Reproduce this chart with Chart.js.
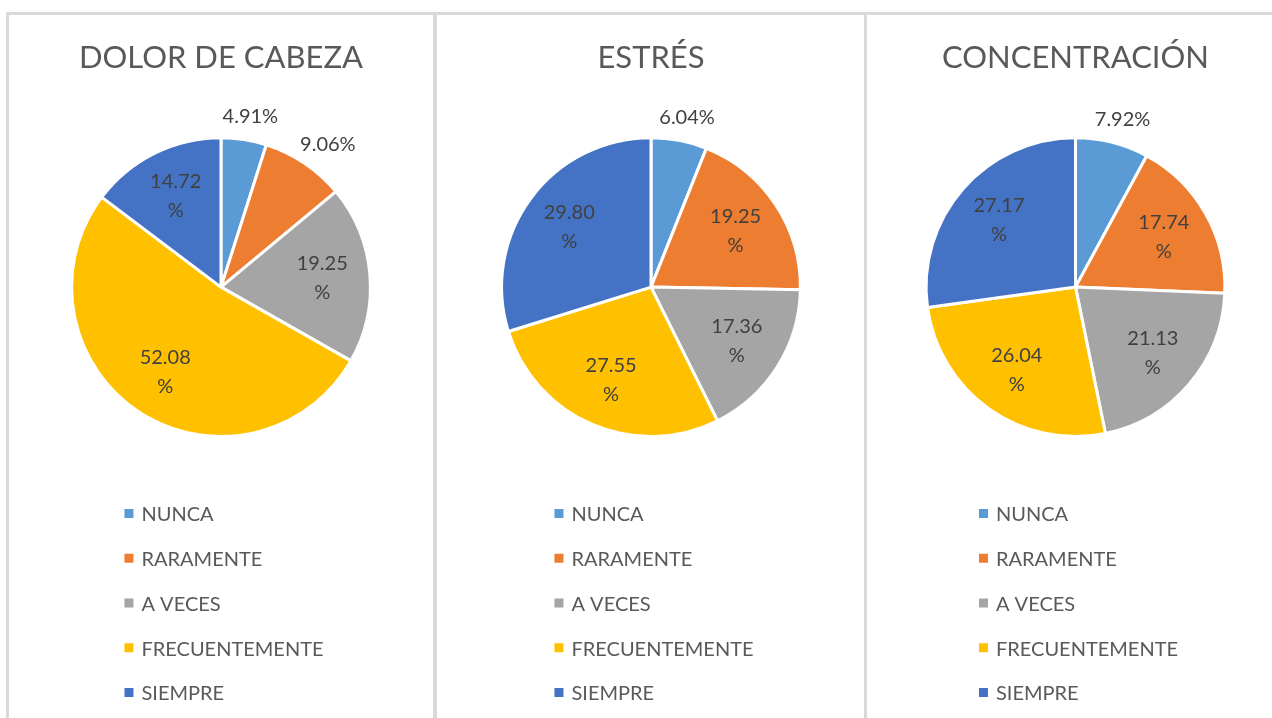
<!DOCTYPE html>
<html>
<head>
<meta charset="utf-8">
<script src="https://cdn.jsdelivr.net/npm/chart.js@4.4.1/dist/chart.umd.min.js"></script>
<style>
  body { margin: 0; background: #fff; width: 1272px; height: 718px; overflow: hidden; position: relative; font-family: Lato, sans-serif; }
  .line { position: absolute; background: #d9d9d9; }
  canvas { position: absolute; top: 15px; }
</style>
</head>
<body>
<div class="line" style="left:6px;top:12px;width:1266px;height:3px"></div>
<div class="line" style="left:6px;top:12px;width:3px;height:706px"></div>
<div class="line" style="left:433px;top:12px;width:4px;height:706px"></div>
<div class="line" style="left:864px;top:12px;width:3px;height:706px"></div>

<canvas id="c1" width="424" height="703" style="left:9px"></canvas>
<canvas id="c2" width="428" height="703" style="left:437px"></canvas>
<canvas id="c3" width="417" height="703" style="left:867px"></canvas>

<script>
// Datos
const categorias = ['NUNCA', 'RARAMENTE', 'A VECES', 'FRECUENTEMENTE', 'SIEMPRE'];
const titulos = ['DOLOR DE CABEZA', 'ESTRÉS', 'CONCENTRACIÓN'];
const dolorCabeza = [4.91, 9.06, 19.25, 52.08, 14.72];
const estres = [6.04, 19.25, 17.36, 27.55, 29.80];
const concentracion = [7.92, 17.74, 21.13, 26.04, 27.17];
const colores = ['#5B9BD5', '#ED7D31', '#A5A5A5', '#FFC000', '#4472C4'];

const FONT = 'Lato, sans-serif';
const TEXTO = '#404040';
const GRIS = '#595959';

// etiquetas de datos (dentro o fuera del sector)
const etiquetasPlugin = {
  id: 'etiquetas',
  afterDatasetsDraw(chart) {
    const ctx = chart.ctx;
    const meta = chart.getDatasetMeta(0);
    const valores = chart.data.datasets[0].data;
    ctx.save();
    ctx.font = '20px ' + FONT;
    ctx.fillStyle = TEXTO;
    ctx.textAlign = 'center';
    ctx.textBaseline = 'middle';
    meta.data.forEach((arc, i) => {
      const { x, y, startAngle, endAngle, outerRadius } = arc.getProps(['x', 'y', 'startAngle', 'endAngle', 'outerRadius'], true);
      const mid = (startAngle + endAngle) / 2;
      const v = valores[i];
      if (v < 10) {
        const txt = v.toFixed(2) + '%';
        const w = ctx.measureText(txt).width;
        const r = outerRadius + 10;
        const ax = x + Math.cos(mid) * r + Math.cos(mid) * (w / 2 + 4);
        const ay = y + Math.sin(mid) * r + Math.sin(mid) * 13;
        ctx.fillText(txt, ax, ay);
      } else {
        const r = outerRadius * 0.68;
        const lx = x + Math.cos(mid) * r;
        const ly = y + Math.sin(mid) * r;
        ctx.fillText(v.toFixed(2), lx, ly - 14.5);
        ctx.fillText('%', lx, ly + 14.5);
      }
    });
    ctx.restore();
  }
};

// leyenda vertical debajo del gráfico
const leyendaPlugin = {
  id: 'leyendaVertical',
  afterDraw(chart) {
    const ctx = chart.ctx;
    const area = chart.chartArea;
    const ds = chart.data.datasets[0];
    ctx.save();
    ctx.font = '20px ' + FONT;
    ctx.textBaseline = 'middle';
    ctx.textAlign = 'left';
    let maxW = 0;
    chart.data.labels.forEach(l => { maxW = Math.max(maxW, ctx.measureText(l).width); });
    const total = 9 + 8 + maxW;
    const left = (area.left + area.right) / 2 - total / 2 + 3;
    chart.data.labels.forEach((l, i) => {
      const yy = area.bottom + 76 + i * 44.75;
      ctx.fillStyle = ds.backgroundColor[i];
      ctx.fillRect(left, yy - 5, 9, 9);
      ctx.fillStyle = GRIS;
      ctx.fillText(l, left + 17, yy + 1);
    });
    ctx.restore();
  }
};

function crearPastel(id, titulo, valores) {
  new Chart(document.getElementById(id), {
    type: 'pie',
    data: {
      labels: categorias,
      datasets: [{
        data: valores,
        backgroundColor: colores,
        borderColor: '#ffffff',
        borderWidth: 3
      }]
    },
    options: {
      responsive: false,
      animation: false,
      layout: { padding: { top: 0, bottom: 280, left: 0, right: 0 } },
      plugins: {
        legend: { display: false },
        tooltip: { enabled: false },
        title: {
          display: true,
          text: titulo,
          color: GRIS,
          font: { family: FONT, size: 31, weight: 'normal' },
          padding: { top: 24, bottom: 60 }
        }
      }
    },
    plugins: [etiquetasPlugin, leyendaPlugin]
  });
}

crearPastel('c1', titulos[0], dolorCabeza);
crearPastel('c2', titulos[1], estres);
crearPastel('c3', titulos[2], concentracion);
</script>
</body>
</html>
